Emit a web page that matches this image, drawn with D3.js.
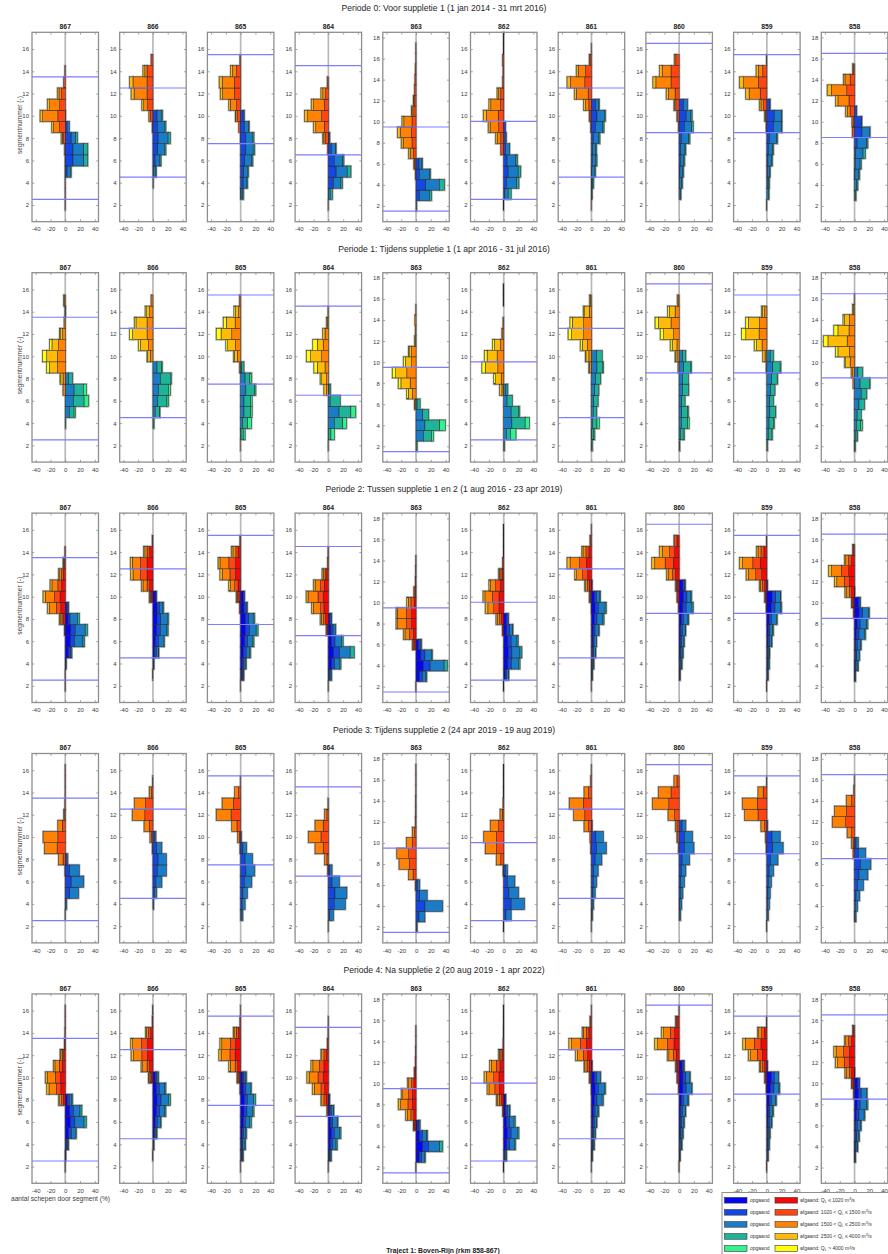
<!DOCTYPE html>
<html>
<head>
<meta charset="utf-8">
<script src="https://cdn.jsdelivr.net/npm/d3@7"></script>
<style>
  body { margin: 0; background: #fff; }
  svg { display: block; }
  text { font-family: "Liberation Sans", Arial, Helvetica, sans-serif; }
</style>
</head>
<body>
<svg id="fig" width="888" height="1254"></svg>
<script>
// Meetraaien (rkm) van links naar rechts
const stations = ["867", "866", "865", "864", "863", "862", "861", "860", "859", "858"];

const periodTitles = [
  "Periode 0: Voor suppletie 1 (1 jan 2014 - 31 mrt 2016)",
  "Periode 1: Tijdens suppletie 1 (1 apr 2016 - 31 jul 2016)",
  "Periode 2: Tussen suppletie 1 en 2 (1 aug 2016 - 23 apr 2019)",
  "Periode 3: Tijdens suppletie 2 (24 apr 2019 - 19 aug 2019)",
  "Periode 4: Na suppletie 2 (20 aug 2019 - 1 apr 2022)"
];

// Segmentgrenzen (blauwe lijnen) per raai
const refLines = [[13.5, 2.5], [12.5, 4.5], [15.5, 7.5], [14.5, 6.5], [9.5, 1.5],
                  [9.5, 2.5], [12.5, 4.5], [16.5, 8.5], [15.5, 8.5], [16.5, 8.5]];
// Bovengrens y-as per raai
const yUpper = [17.5, 17.5, 17.5, 17.5, 18.5, 17.5, 17.5, 17.5, 17.5, 18.5];
const yTicks18 = [2, 4, 6, 8, 10, 12, 14, 16, 18];
const yTicks16 = [2, 4, 6, 8, 10, 12, 14, 16];
const xTicks = [-40, -20, 0, 20, 40];

// Afvoerklassen (Lobith)
const classLabels = [
  ["Q", "L", " \u2264 1020 m", "3", "/s"],
  ["1020 < Q", "L", " \u2264 1500 m", "3", "/s"],
  ["1500 < Q", "L", " \u2264 2500 m", "3", "/s"],
  ["2500 < Q", "L", " \u2264 4000 m", "3", "/s"],
  ["Q", "L", " > 4000 m", "3", "/s"]
];
const upColors = ["#0505f2", "#1446e4", "#1a7cc6", "#1fb49a", "#33f28c"];
const downColors = ["#f70808", "#ff4612", "#ff8204", "#ffbb08", "#ffff0a"];

// Afvoerklassen die per periode voorkomen (index in classLabels)
const periodClasses = [[1, 2, 3], [2, 3, 4], [0, 1, 2, 3], [1, 2], [0, 1, 2, 3]];

// Per raai: [segment, afgaand (lage -> hoge afvoer), opgaand (lage -> hoge afvoer)] in %
const period0 = [
  [[2,[0.3],[]],[3,[0.3],[]],[4,[0.3],[]],[5,[0.3],[2.5,4.5,1]],[6,[0.3],[10.5,14.5,5.5]],[7,[1],[10.5,14.5,5.5]],[8,[3,1,1.5],[8,6,2.5]],[9,[7.7,8.2,2.3],[2.5,3]],[10,[10,20.5,3.5],[0.5]],[11,[7.5,13.5,3],[]],[12,[5,3.5,2],[]],[13,[2],[]],[14,[0.5],[]]],
  [[4,[],[0,0,0.5]],[5,[],[1,2.5,1]],[6,[],[3,6.5,1.5]],[7,[],[6.5,9,2]],[8,[],[7,13.5,3]],[9,[1],[6,9.5,2]],[10,[3.5,2],[5.5,6,1.5]],[11,[7,5.5,2.5],[]],[12,[8,17.5,4],[]],[13,[8,19,4.5],[]],[14,[8,3,2.5],[]],[15,[2.5],[]]],
  [[3,[],[0.5,2,1.5]],[4,[],[3.5,5,1]],[5,[],[4,5,1.5]],[6,[],[5.5,9.5,1.5]],[7,[],[7,10,2]],[8,[0.5],[7,9,2]],[9,[2.5],[5,6,0.5]],[10,[4,2.5,0.5],[3.5,1.5]],[11,[5.5,8.5,2],[]],[12,[8.5,16,3],[]],[13,[8.5,16.5,4],[]],[14,[5.5,5.5,2.5],[]],[15,[1],[]]],
  [[2,[0.3],[]],[3,[],[0.5,2,3]],[4,[],[7,10,2]],[5,[],[10.5,15,5]],[6,[],[8,11.5,1.5]],[7,[1],[4,6,0.5]],[8,[4.5,2,1],[1,1]],[9,[5.5,11.5,3],[]],[10,[9,19,4],[]],[11,[5.5,14.5,3],[]],[12,[3.5,4,2.5],[]],[13,[1.5],[]]],
  [[2,[],[0,0,1]],[3,[],[4.5,13.5,3]],[4,[],[13,18.5,7]],[5,[1],[4.5,14,1]],[6,[1.5,1,0.5],[4,4,0.5]],[7,[3.5,4.5,2],[]],[8,[5.5,12,2.5],[]],[9,[6.5,15,3.5],[]],[10,[5.5,11,2.5],[]],[11,[3,2.5,0.5],[]],[12,[2,1,0.5],[]],[13,[2],[]],[14,[1.5],[]],[15,[1],[]],[16,[0.3],[]],[17,[0.3],[]]],
  [[2,[0.3],[]],[3,[],[1.5,4.5,4]],[4,[],[3.5,14,3]],[5,[],[6,13.5,3.5]],[6,[],[4.5,12,2]],[7,[4],[2.5,5,0.5]],[8,[4,5,2],[2,1.5]],[9,[7,11.5,2.5],[2.5]],[10,[7.5,16,4],[]],[11,[4.5,13,2.5],[]],[12,[4,3,2],[]],[13,[1.5],[]],[14,[1],[]],[15,[1.5],[]],[16,[0.3],[]],[17,[0.3],[]]],
  [[2,[0.3],[]],[3,[],[0,0.5,0.5]],[4,[],[0.5,1.5,1]],[5,[],[0.5,3.5,1.5]],[6,[],[1,5,1.5]],[7,[],[1.5,4.5,1]],[8,[],[2.5,7.5,1.5]],[9,[1],[5.5,10,1.5]],[10,[2,1],[7.5,10,1.5]],[11,[3.5,4.5,2.5],[5.5,4.5,0.5]],[12,[4.5,16,2.5],[]],[13,[9,19.5,4.5],[]],[14,[8,10,2.5],[]],[15,[2,1],[]],[16,[0.3],[]]],
  [[3,[],[0,1.5,1]],[4,[],[0.5,3,1]],[5,[],[1,4,1]],[6,[],[1.5,5,1]],[7,[],[2,6,1]],[8,[],[3,10,1.5]],[9,[1],[7,10,2]],[10,[2,1],[9.5,6.5,1.5]],[11,[4.5,2,0.5],[6,5.5]],[12,[5.5,9,3],[]],[13,[11,20.5,4],[]],[14,[11,12,3.5],[]],[15,[4.5,2],[]]],
  [[2,[0.3],[]],[3,[],[0,2,1]],[4,[],[0.5,2,1]],[5,[],[1,3,0.5]],[6,[],[1.5,5,1]],[7,[],[2,6,1]],[8,[],[3.5,10,1]],[9,[1],[9,11,0.5]],[10,[2,1],[10,10,0.5]],[11,[4.5,3.5,2],[4,0.5]],[12,[9,15,4.5],[]],[13,[11.5,20,5.5],[]],[14,[5.5,6,3],[]],[15,[0.5],[]]],
  [[3,[],[0,1,1]],[4,[],[0,3,1.5]],[5,[],[0.5,5,1.5]],[6,[],[1,6.5,1.5]],[7,[],[1.5,10,3]],[8,[],[3.5,13,1.5]],[9,[3],[10,10,1]],[10,[2,1.5],[9.5,0.5]],[11,[6,4,2],[3]],[12,[7.5,15,3],[]],[13,[10.5,21,5.5],[]],[14,[6,7,2],[]],[15,[1.5,1],[]]]
];

const period1 = [
  [[4,[],[0,0.3,0.3]],[5,[],[5.5,6.5,1.5]],[6,[],[11,14.5,6]],[7,[3],[12,12.5,4]],[8,[3,3,1],[4.5,5.5]],[9,[10.5,11,3.5],[]],[10,[10.5,14.5,5.5],[]],[11,[9,9,3],[]],[12,[3.5,3.5,0.5],[]],[13,[1.5],[]],[14,[0.5],[0.5]],[15,[1.5,0.5],[]]],
  [[4,[],[0,0.5,1]],[5,[],[3,6,0.5]],[6,[],[6.5,12.5,2]],[7,[],[7.5,13.5,2.5]],[8,[],[10,13.5,1.5]],[9,[],[5.5,6.5,0.5]],[10,[3.5,3.5,1],[]],[11,[6,11,2.5],[]],[12,[8,19.5,4],[]],[13,[8,15,2],[]],[14,[4.5,4,2],[]],[15,[2.5],[]]],
  [[2,[0.3],[]],[3,[],[0.5,3,2.5]],[4,[],[2.5,7,5]],[5,[],[4.5,9,2]],[6,[],[4.5,9,2]],[7,[],[7,12,1.5]],[8,[],[6,6.5,2.5]],[9,[1.5],[1.5,3]],[10,[4.5,4,1],[]],[11,[7,10.5,2.5],[]],[12,[12,14.5,6.5],[]],[13,[7.5,12,4],[]],[14,[3,4,2],[]],[15,[1.5],[]]],
  [[2,[0.3],[]],[3,[],[0.5,3,4.5]],[4,[],[8,11.5,5]],[5,[],[14.5,16,6.5]],[6,[],[2.5,13.5]],[7,[2.5,3.5],[1,2]],[8,[2.5,6.5,2],[]],[9,[4.5,10.5,4.5],[]],[10,[9,15,5.5],[]],[11,[7,8,6],[]],[12,[4.5,3],[]],[13,[1.5,1],[]],[14,[0.5],[]]],
  [[2,[],[0,0.5,1]],[3,[],[10,11,2.5]],[4,[],[12,20,7.5]],[5,[],[9,8]],[6,[1.5,0.5],[1.5,4]],[7,[5,5.5,2],[]],[8,[8,12.5,3.5],[]],[9,[12.5,15,4.5],[]],[10,[6,8.5,2.5],[]],[11,[6,3.5,0.5],[]],[12,[1,1],[]],[13,[1],[]],[14,[1.5],[]],[15,[0.3],[]]],
  [[2,[],[0,0.5,0.5]],[3,[],[3.5,5.5,7.5]],[4,[],[11,18,5.5]],[5,[],[10,10.5,1]],[6,[],[4.5,7]],[7,[2.5,3],[3,2.5]],[8,[3.5,7.5,2.5],[]],[9,[8,17,4.5],[]],[10,[9,13.5,3.5],[]],[11,[4.5,8,2.5],[]],[12,[1.5,1],[]],[13,[1],[]],[15,[0.5],[]],[16,[0.5],[]]],
  [[2,[],[0,0.5,1]],[3,[],[0.5,2.5,1.5]],[4,[],[1.5,6,3]],[5,[],[2.5,4,0.5]],[6,[],[3,6]],[7,[],[4.5,5.5]],[8,[],[5.5,7]],[9,[3,0.5],[7.5,8,0.5]],[10,[3.5,4,0.5],[7,7.5]],[11,[5.5,7,2.5],[]],[12,[10.5,16.5,4.5],[]],[13,[10.5,15.5,3],[]],[14,[3,7,1],[]],[15,[1.5,1],[]]],
  [[2,[],[0,0.5,0.5]],[3,[],[1.5,4,1.5]],[4,[],[3,8.5,2]],[5,[],[3.5,8,1]],[6,[],[3.5,4.5]],[7,[],[4.5,8.5]],[8,[],[4.5,8]],[9,[1.5],[6,10,0.5]],[10,[3,2,0.5],[4.5,4.5]],[11,[3,6.5,2.5],[]],[12,[7.5,13.5,4.5],[]],[13,[11,17,4.5],[]],[14,[5.5,8,2],[]],[15,[1.5,1],[]]],
  [[2,[],[0,0.5,0.5]],[3,[],[2,4,1.5]],[4,[],[3,6,1]],[5,[],[4,7.5,0.5]],[6,[],[4,5]],[7,[],[5,6]],[8,[],[6.5,7.5,0.5]],[9,[1],[8,10,1]],[10,[2.5,3],[4.5,4.5]],[11,[6.5,7.5,3],[]],[12,[10.5,18,5.5],[]],[13,[10,15,3.5],[]],[14,[3,3,1],[]]],
  [[2,[],[0,0.5,0.5]],[3,[],[1,2.5,0.5]],[4,[],[2.5,6,2]],[5,[],[3.5,5.5]],[6,[],[6,7.5]],[7,[],[9,7.5]],[8,[2],[7.5,12.5,1]],[9,[2.5,2],[4.5,6.5]],[10,[6,6,1.5],[]],[11,[7,15.5,3],[]],[12,[10,26,6],[]],[13,[7.5,15,5.5],[]],[14,[7,6.5,2],[]],[15,[1.5,1],[]],[16,[0.3],[]]]
];

const period2 = [
  [[2,[0.3],[]],[3,[0.3],[]],[4,[],[0.5,0.5,0.3]],[5,[],[4.5,3,1.5]],[6,[],[7,5.5,11.5,2]],[7,[0.5,0.5],[7.5,6,13.5,3]],[8,[2.5,2,2.5,1],[4,2.5,10,2.5]],[9,[6,6,9.5,2.5],[2,2,0.5]],[10,[7,7.5,12.5,3],[]],[11,[5,5,8,2.5],[]],[12,[2.5,2.5,2.5,1.5],[]],[13,[1,1,0.5,0.5],[]],[14,[0.5],[]]],
  [[3,[0.3],[]],[4,[],[0.5,0.5,0.5]],[5,[],[2,2.5,3,0.5]],[6,[],[3.5,4,6.5,1.5]],[7,[],[5,5,9,1.5]],[8,[],[5.5,5,9,1.5]],[9,[],[5.5,3.5,4.5,1]],[10,[2,1.5,1,0.5],[4,1]],[11,[4.5,3.5,5.5,2],[]],[12,[8,9,10,3],[]],[13,[8,9,11,2.5],[]],[14,[4.5,3.5,3,1.5],[]],[15,[0.5,0.5],[]]],
  [[2,[0.3],[]],[3,[],[1.5,1.5,1,0.5]],[4,[],[2.5,2,2.5,0.5]],[5,[],[3.5,4,4.5,1.5]],[6,[],[5.5,4,6.5,2]],[7,[],[6.5,5.5,9,2.5]],[8,[],[6.5,4.5,6,2]],[9,[1.5],[4.5,3.5,1]],[10,[2.5,2,1,0.5],[3.5,2]],[11,[3.5,4.5,5.5,2.5],[]],[12,[7,7.5,10.5,3],[]],[13,[7,9,12,2.5],[]],[14,[3.5,3,4,2],[]],[15,[1],[]]],
  [[2,[0.3],[]],[3,[],[1,1.5,1.5,0.5]],[4,[],[4.5,4,6.5,2]],[5,[],[7,8,14.5,5.5]],[6,[],[4.5,4.5,9,2]],[7,[1.5,1,0.5],[3.5,3,3,0.5]],[8,[3.5,3,3,1.5],[2,2,0.5]],[9,[6,4.5,10,2],[]],[10,[7,7,13.5,2.5],[]],[11,[5.5,5,7.5,2],[]],[12,[2.5,2,2.5,1.5],[]],[13,[1],[]],[14,[0.5],[]]],
  [[2,[0.3],[]],[3,[],[4.5,4,5,1]],[4,[],[10,9,19,4.5]],[5,[],[6.5,5.5,9,1]],[6,[2,1.5,1,0.5],[3,3,1.5]],[7,[3.5,5.5,6,2],[]],[8,[6,7,12,2],[]],[9,[6,7,12.5,1.5],[]],[10,[2.5,4.5,3.5,2],[]],[11,[1,1,1],[]],[12,[1],[]],[13,[0.5],[]],[14,[0.3],[]]],
  [[2,[0.3],[]],[3,[],[2,2,2.5,0.5]],[4,[],[5.5,5,9.5,2]],[5,[],[6,5,11,2.5]],[6,[],[5.5,4.5,8,1.5]],[7,[2],[4,4,4,0.5]],[8,[3,2.5,3.5,1.5],[3.5,3]],[9,[6.5,7,8,3.5],[]],[10,[6.5,9,10,2.5],[]],[11,[4.5,6.5,7,2],[]],[12,[2,2,2,1],[]],[13,[1.5],[]],[14,[0.3],[]],[15,[0.3],[]],[16,[0.3],[]]],
  [[2,[0.3],[]],[3,[],[0.5,0.5,0.5]],[4,[],[0.5,1,1.5,0.5]],[5,[],[1.5,1.5,2.5,0.5]],[6,[],[2,1.5,3,0.5]],[7,[],[2.5,2.5,4.5,1]],[8,[],[4,3.5,8,1.5]],[9,[0.5],[5,4.5,9,1.5]],[10,[1.5,1,0.5],[4,3,4.5,0.5]],[11,[3,2.5,2.5,1],[1]],[12,[5,7,8,2.5],[]],[13,[7,9,13,4],[]],[14,[3.5,4,4,1.5],[]],[15,[1,1],[]],[16,[0.3],[]]],
  [[3,[],[0.5,0.5,0.5]],[4,[],[0.5,1,2,0.5]],[5,[],[1,1.5,2.5,0.5]],[6,[],[1.5,2,3,0.5]],[7,[],[2,2.5,4,0.5]],[8,[],[3,3,6,1]],[9,[1],[5,4.5,8,1.5]],[10,[2,1],[6,4.5,5.5,1]],[11,[2.5,1.5,1],[5,2.5,1]],[12,[5,4,6,2],[]],[13,[8,11,14,4],[]],[14,[6,7,10,3.5],[]],[15,[3,3,1],[]]],
  [[2,[0.3],[]],[3,[],[0.5,0.5,1]],[4,[],[0.5,1,1.5,0.5]],[5,[],[1,1,1.5,0.5]],[6,[],[1.5,2,3,0.5]],[7,[],[2,2,4,1]],[8,[],[3,3,7,1]],[9,[1],[6,5,8,1]],[10,[2,1],[7,5,6.5,0.5]],[11,[3,3,3,1],[1]],[12,[7,8,10,3],[]],[13,[9,10,14,4],[]],[14,[4,4,4,2],[]],[15,[0.5],[]]],
  [[3,[],[0.5,0.5,0.5]],[4,[],[0.5,1.5,2.5,0.5]],[5,[],[1,2,3.5,0.5]],[6,[],[1.5,2.5,4.5,0.5]],[7,[],[2.5,3.5,7.5,1.5]],[8,[],[3.5,4,9,1.5]],[9,[1.5],[6,5,8,1]],[10,[2,1.5,0.5],[5,3]],[11,[4,3,4.5,1.5],[0.5]],[12,[7,7,10,3],[]],[13,[8,10,13,4],[]],[14,[4,4,4,1.5],[]],[15,[1.5,1],[]]]
];

const period3 = [
  [[3,[0.3],[]],[4,[],[0.5,1.5]],[5,[],[6,12]],[6,[],[8,17]],[7,[0.5],[6,13]],[8,[3,6],[1.5,2]],[9,[11,17],[]],[10,[10,20],[]],[11,[4,6],[]],[12,[1,1],[]],[13,[0.5],[]],[14,[0.3],[]],[15,[0.3],[]],[16,[0.3],[]]],
  [[4,[],[0.5,0.5]],[5,[],[2,3]],[6,[],[4,8]],[7,[],[6,12]],[8,[],[7,11]],[9,[1],[5,7]],[10,[2,2],[2,2]],[11,[5,7],[]],[12,[11,17],[]],[13,[10,15],[]],[14,[2,3],[]],[15,[0.5],[]]],
  [[3,[],[1,2]],[4,[],[2,4]],[5,[],[3,6]],[6,[],[5,10]],[7,[],[7,12]],[8,[],[6,10]],[9,[1],[3,5]],[10,[2,2],[1]],[11,[5,7],[]],[12,[13,20],[]],[13,[10,15],[]],[14,[3,5],[]],[15,[0.5],[]]],
  [[2,[0.3],[]],[3,[],[2,5]],[4,[],[8,15]],[5,[],[9,16]],[6,[],[5,10]],[7,[1],[2,3]],[8,[2,3],[]],[9,[7,11],[]],[10,[10,17],[]],[11,[7,11],[]],[12,[2,3],[]],[13,[0.5],[]]],
  [[2,[],[0.5,1]],[3,[],[4,8]],[4,[],[12,24]],[5,[],[5,10]],[6,[1],[2,3]],[7,[4,6],[]],[8,[9,14],[]],[9,[10,16],[]],[10,[5,8],[]],[11,[2,3],[]],[12,[1],[]],[13,[0.5],[]],[14,[0.5],[]],[15,[0.3],[]],[16,[0.3],[]],[17,[0.3],[]]],
  [[2,[0.3],[]],[3,[],[3,7]],[4,[],[10,18]],[5,[],[7,13]],[6,[],[5,10]],[7,[1],[2,3]],[8,[4,6],[]],[9,[10,15],[]],[10,[10,17],[]],[11,[7,11],[]],[12,[2,3],[]],[13,[1],[]],[14,[0.3],[]],[15,[0.3],[]],[16,[0.3],[]]],
  [[2,[0.3],[]],[3,[],[0.5,1]],[4,[],[1,2]],[5,[],[2,3]],[6,[],[2.5,4.5]],[7,[],[3,6]],[8,[],[5,9]],[9,[1],[7,13]],[10,[2],[6,10]],[11,[4,6],[1]],[12,[9,15],[]],[13,[11,19],[]],[14,[4,6],[]],[15,[1],[]],[16,[0.3],[]]],
  [[3,[],[0.5,1.5]],[4,[],[1,2.5]],[5,[],[1.5,3.5]],[6,[],[2,5]],[7,[],[3,6]],[8,[],[4,10]],[9,[1],[7,13]],[10,[2,1],[7,11]],[11,[3,2],[4,5]],[12,[6,9],[]],[13,[14,22],[]],[14,[11,17],[]],[15,[3,4],[]]],
  [[2,[0.3],[]],[3,[],[0.5,1.5]],[4,[],[1,2.5]],[5,[],[1.5,3]],[6,[],[2,4]],[7,[],[3,6]],[8,[],[5,10]],[9,[1],[8,14]],[10,[2],[7,11]],[11,[3,5],[1]],[12,[12,18],[]],[13,[13,20],[]],[14,[5,7],[]],[15,[0.3],[]]],
  [[3,[],[0.5,1.5]],[4,[],[1,3]],[5,[],[2,5]],[6,[],[4,8]],[7,[],[6,12]],[8,[],[8,14]],[9,[2],[5,10]],[10,[2,2],[2,3]],[11,[4,6],[]],[12,[12,18],[]],[13,[11,16],[]],[14,[4,7],[]],[15,[1],[]],[16,[0.3],[]]]
];

const period4 = [
  [[2,[0.3],[]],[3,[0.3],[0.5,0.5]],[4,[],[1.5,1.5,1,0.5]],[5,[],[4.5,4,5,1.5]],[6,[],[7,6,12.5,3]],[7,[],[6,5,9,2.5]],[8,[2.5,2.5,2.5,1.5],[3,2.5,3.5,1]],[9,[6,6,10,3],[]],[10,[6.5,7,11,2.5],[]],[11,[4,4,6,2],[]],[12,[2,2,2,1],[]],[13,[0.5,0.5],[]],[14,[0.5],[]],[15,[0.3],[]],[16,[0.3],[]]],
  [[3,[0.3],[]],[4,[],[0.5,0.5,0.5]],[5,[],[1.5,1.5,2,0.5]],[6,[],[3,3,4,1]],[7,[],[4.5,4.5,7,1.5]],[8,[],[5.5,5.5,10,2.5]],[9,[],[4.5,4,7.5,1.5]],[10,[2,2,1.5,0.5],[3,2,2,0.5]],[11,[4.5,3.5,6,2],[]],[12,[7.5,7.5,11.5,3],[]],[13,[7.5,8,12,2.5],[]],[14,[3,3,3,1],[]],[15,[1],[]],[16,[0.3],[]]],
  [[2,[0.3],[]],[3,[],[1,1,1,0.5]],[4,[],[1.5,1.5,3,0.5]],[5,[],[2,2,3,1]],[6,[],[3.5,3,6,2]],[7,[],[4.5,4,7.5,2]],[8,[],[5,4,8.5,2.5]],[9,[1],[3.5,3.5,6,1.5]],[10,[2,1.5,1,0.5],[2.5,2,2.5,1]],[11,[4,3.5,6.5,2],[]],[12,[7.5,7,12,3],[]],[13,[7,7,11.5,2.5],[]],[14,[3,3,3,1],[]],[15,[1],[]],[16,[0.3],[]]],
  [[2,[0.3],[]],[3,[],[1,1,1.5,0.5]],[4,[],[2.5,3,5,1.5]],[5,[],[4,4,7,2]],[6,[],[3,3,6,1]],[7,[1,1],[2,2,3,0.5]],[8,[3,3,3,1],[1,1]],[9,[5,5,9,2.5],[]],[10,[7,7,12,3],[]],[11,[6,6,9,2.5],[]],[12,[3,3,3,1],[]],[13,[1.5],[]],[14,[0.5],[]],[15,[0.3],[]]],
  [[2,[0.3],[]],[3,[],[4,3.5,4,1]],[4,[],[9,8,15,4]],[5,[],[4.5,4,6,1]],[6,[2,1,0.5],[2,2,1.5]],[7,[3,4,5,2],[]],[8,[5,6,10,3],[]],[9,[5,5,8,2],[]],[10,[3,3,4,1.5],[]],[11,[1.5,1],[]],[12,[1],[]],[13,[0.5],[]],[14,[0.3],[]],[15,[0.3],[]]],
  [[2,[0.3],[]],[3,[],[1,1,1.5,0.5]],[4,[],[4,4,6.5,1.5]],[5,[],[5,5,8.5,2]],[6,[],[4,4,6,1.5]],[7,[1.5],[2.5,2.5,3,0.5]],[8,[3,3,3,1],[2,1]],[9,[6,6,8,2.5],[]],[10,[6.5,7,10,3],[]],[11,[5,5,7,2],[]],[12,[2,2,2,1],[]],[13,[1],[]],[14,[0.5],[]],[15,[0.3],[]],[16,[0.3],[]]],
  [[2,[0.3],[]],[3,[],[0.5,0.5,0.5]],[4,[],[1,1,1.5,0.5]],[5,[],[1.5,1.5,2,0.5]],[6,[],[2,2,3,0.5]],[7,[],[2.5,2.5,4,1]],[8,[],[4,3.5,7,1.5]],[9,[0.5],[5,4.5,8,1.5]],[10,[1.5,1,0.5],[4,3,5,0.5]],[11,[3,3,3,1],[1]],[12,[5,6,8,2.5],[]],[13,[7,8,12,3.5],[]],[14,[3.5,3.5,4,1.5],[]],[15,[1,1],[]],[16,[0.3],[]]],
  [[2,[0.3],[]],[3,[],[0.5,0.5,0.5]],[4,[],[0.5,1,2,0.5]],[5,[],[1,1.5,2.5,0.5]],[6,[],[1.5,2,3,0.5]],[7,[],[2,2.5,4,0.5]],[8,[],[3,3,6,1]],[9,[1],[5,4.5,7,1]],[10,[2,1],[5,4,5,1]],[11,[2.5,1.5,1],[4,2,1]],[12,[4,4,6,2],[]],[13,[7,9,13,4],[]],[14,[6,6,9,3],[]],[15,[2,2,1],[]],[16,[0.3],[]]],
  [[2,[0.3],[]],[3,[],[0.5,0.5,1]],[4,[],[0.5,1,1.5,0.5]],[5,[],[1,1,2,0.5]],[6,[],[1.5,2,3,0.5]],[7,[],[2,2,4,1]],[8,[],[3,3,6,1]],[9,[1],[5,4.5,7,1]],[10,[2,1],[6,4,5.5,0.5]],[11,[3,3,3,1],[1]],[12,[6,7,9,3],[]],[13,[8,9,12,3.5],[]],[14,[3.5,3.5,4,1.5],[]],[15,[0.5],[]]],
  [[3,[],[0.5,0.5,0.5]],[4,[],[0.5,1.5,2,0.5]],[5,[],[1,2,3,0.5]],[6,[],[1.5,2.5,4.5,0.5]],[7,[],[2.5,3.5,7,1]],[8,[],[3.5,4,9,1.5]],[9,[1.5],[5,4,7,1]],[10,[2,1.5,0.5],[4,3]],[11,[4,3,4.5,1.5],[0.5]],[12,[7,7,9,3],[]],[13,[7,8,10,3],[]],[14,[4,4,4,1.5],[]],[15,[1.5,1],[]]]
];

const periods = [period0, period1, period2, period3, period4];

// ---------- layout ----------
const svg = d3.select("#fig");
const colLeft = 32, colStep = 87.7, plotW = 66.5;
const rowTop = 32.3, rowStep = 240.4, plotH = 189.4;
const xDomain = [-45, 45];

periods.forEach((panels, r) => {
  const top = rowTop + r * rowStep;
  svg.append("text")
    .attr("x", 444).attr("y", top - 21)
    .attr("text-anchor", "middle")
    .attr("font-size", 8.6).attr("fill", "#262626")
    .text(periodTitles[r]);

  stations.forEach((st, c) => {
    const left = colLeft + c * colStep;
    const x = d3.scaleLinear().domain(xDomain).range([left, left + plotW]);
    const y = d3.scaleLinear().domain([0.5, yUpper[c]]).range([top + plotH, top]);
    const g = svg.append("g");
    const cls = periodClasses[r];

    // panel title
    g.append("text")
      .attr("x", left + plotW / 2).attr("y", top - 3.2)
      .attr("text-anchor", "middle")
      .attr("font-size", 6.8).attr("font-weight", "bold").attr("fill", "#222")
      .text(st);

    // zero line
    g.append("line")
      .attr("x1", x(0)).attr("x2", x(0))
      .attr("y1", top).attr("y2", top + plotH)
      .attr("stroke", "#b8b8b8").attr("stroke-width", 1.7);

    // stacked bar pieces
    const pieces = [];
    panels[c].forEach(([seg, dn, up]) => {
      let acc = 0;
      dn.forEach((v, i) => {
        pieces.push({ x0: -(acc + v), x1: -acc, seg, color: downColors[cls[i]] });
        acc += v;
      });
      acc = 0;
      up.forEach((v, i) => {
        pieces.push({ x0: acc, x1: acc + v, seg, color: upColors[cls[i]] });
        acc += v;
      });
    });
    const live = pieces.filter(p => p.x1 - p.x0 > 0);

    // soft grey edge round the bars
    g.append("g").selectAll("rect").data(live).join("rect")
      .attr("x", d => x(d.x0)).attr("width", d => x(d.x1) - x(d.x0))
      .attr("y", d => y(d.seg + 0.5)).attr("height", d => y(d.seg - 0.5) - y(d.seg + 0.5))
      .attr("fill", "none").attr("stroke", "#b0b0b0").attr("stroke-width", 2.2);

    g.append("g").selectAll("rect").data(live).join("rect")
      .attr("x", d => x(d.x0)).attr("width", d => x(d.x1) - x(d.x0))
      .attr("y", d => y(d.seg + 0.5)).attr("height", d => y(d.seg - 0.5) - y(d.seg + 0.5))
      .attr("fill", d => d.color).attr("stroke", "#262626").attr("stroke-width", 0.5);

    // segment boundaries
    g.append("g").selectAll("line").data(refLines[c]).join("line")
      .attr("x1", left).attr("x2", left + plotW)
      .attr("y1", d => y(d)).attr("y2", d => y(d))
      .attr("stroke", "#7d7dff").attr("stroke-width", 1.2);

    // axes
    const yt = yUpper[c] > 18 ? yTicks18 : yTicks16;
    const axB = g.append("g").attr("transform", `translate(0,${top + plotH})`)
      .call(d3.axisBottom(x).tickValues(xTicks).tickFormat(d => String(d)).tickSizeInner(-2.3).tickSizeOuter(0).tickPadding(5.4));
    const axT = g.append("g").attr("transform", `translate(0,${top})`)
      .call(d3.axisTop(x).tickValues(xTicks).tickFormat("").tickSizeInner(-2.3).tickSizeOuter(0));
    const axL = g.append("g").attr("transform", `translate(${left},0)`)
      .call(d3.axisLeft(y).tickValues(yt).tickFormat(d => String(d)).tickSizeInner(-2.3).tickSizeOuter(0).tickPadding(3));
    const axR = g.append("g").attr("transform", `translate(${left + plotW},0)`)
      .call(d3.axisRight(y).tickValues(yt).tickFormat("").tickSizeInner(-2.3).tickSizeOuter(0));
    [axB, axT, axL, axR].forEach(a => {
      a.select(".domain").remove();
      a.selectAll(".tick line").attr("stroke", "#666").attr("stroke-width", 0.6);
      a.selectAll(".tick text").attr("font-size", 6).attr("fill", "#3c3c3c")
        .attr("font-family", "'Liberation Sans', Arial, sans-serif");
    });

    // axes box
    g.append("rect")
      .attr("x", left).attr("y", top).attr("width", plotW).attr("height", plotH)
      .attr("fill", "none").attr("stroke", "#8e8e8e").attr("stroke-width", 1.3);

    if (c === 0) {
      g.append("text")
        .attr("transform", `translate(19.5,${top + plotH / 2 - 2}) rotate(-90)`)
        .attr("text-anchor", "middle").attr("dy", "0.35em")
        .attr("font-size", 6.6).attr("fill", "#3c3c3c")
        .text("segmentnummer (-)");
    }
  });
});

// x-as label
svg.append("text")
  .attr("x", 11).attr("y", 1201)
  .attr("font-size", 6.6).attr("fill", "#3c3c3c")
  .text("aantal schepen door segment (%)");

// ---------- legend ----------
const leg = svg.append("g");
leg.append("rect").attr("x", 722).attr("y", 1192.5).attr("width", 175).attr("height", 70)
  .attr("fill", "#fff").attr("stroke", "#8e8e8e").attr("stroke-width", 1);
classLabels.forEach((lab, i) => {
  const cy = 1200.3 + i * 12.05;
  leg.append("rect").attr("x", 724.5).attr("y", cy - 2.8).attr("width", 22.5).attr("height", 5.6)
    .attr("fill", upColors[i]).attr("stroke", "#333").attr("stroke-width", 0.6);
  leg.append("text").attr("x", 750).attr("y", cy + 1.8).attr("font-size", 5).attr("fill", "#333").text("opgaand");
  leg.append("rect").attr("x", 775).attr("y", cy - 2.8).attr("width", 22.5).attr("height", 5.6)
    .attr("fill", downColors[i]).attr("stroke", "#333").attr("stroke-width", 0.6);
  const t = leg.append("text").attr("x", 800).attr("y", cy + 1.8).attr("font-size", 5).attr("fill", "#333");
  t.append("tspan").text("afgaand: " + lab[0]);
  t.append("tspan").attr("font-size", 3.6).attr("dy", 1).text(lab[1]);
  t.append("tspan").attr("dy", -1).text(lab[2]);
  t.append("tspan").attr("font-size", 3.6).attr("dy", -1.8).text(lab[3]);
  t.append("tspan").attr("dy", 1.8).text(lab[4]);
});

// ---------- figure title ----------
svg.append("text")
  .attr("x", 443).attr("y", 1252.5)
  .attr("text-anchor", "middle")
  .attr("font-size", 6.8).attr("font-weight", "bold").attr("fill", "#222")
  .text("Traject 1: Boven-Rijn (rkm 858-867)");
</script>
</body>
</html>
